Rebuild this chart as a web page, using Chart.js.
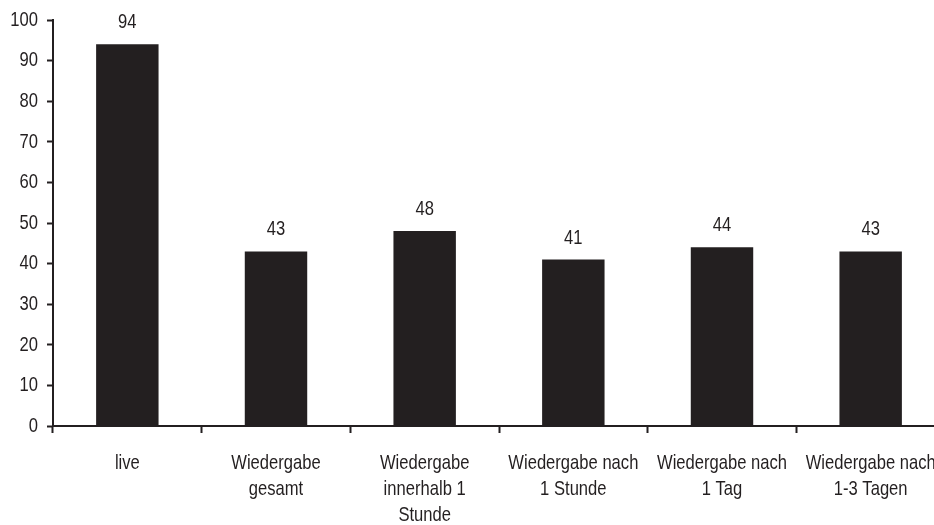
<!DOCTYPE html>
<html>
<head>
<meta charset="utf-8">
<script src="https://cdn.jsdelivr.net/npm/chart.js@4"></script>
<style>
  html, body { margin: 0; padding: 0; background: #fff; overflow: hidden; }
  #wrap { width: 934px; height: 525px; overflow: hidden; }
  #wrap div { width: 945px; height: 525px; position: relative; }
</style>
</head>
<body>
<div id="wrap"><div><canvas id="grafico"></canvas></div></div>
<script>
// Kategorien und Werte (Prozent)
const kategorien = [
    'live',
    ['Wiedergabe', 'gesamt'],
    ['Wiedergabe', 'innerhalb 1', 'Stunde'],
    ['Wiedergabe nach', '1 Stunde'],
    ['Wiedergabe nach', '1 Tag'],
    ['Wiedergabe nach', '1-3 Tagen']
];
const werte = [94, 43, 48, 41, 44, 43];
const yTicks = [0, 10, 20, 30, 40, 50, 60, 70, 80, 90, 100];

const schrift = "21px 'Liberation Sans', Arial, sans-serif";
const farbe = '#231f20';
const schmal = 0.79; // schmale Schrift nachbilden

// Text horizontal gestaucht zeichnen
function text(ctx, str, x, y) {
    ctx.save();
    ctx.translate(x, y);
    ctx.scale(schmal, 1);
    ctx.fillText(str, 0, 0);
    ctx.restore();
}

// Achsenbeschriftungen und Werte über den Balken
const beschriftung = {
    id: 'beschriftung',
    afterDatasetsDraw(chart) {
        const ctx = chart.ctx;
        const xs = chart.scales.x;
        const ys = chart.scales.y;
        ctx.save();
        ctx.font = schrift;
        ctx.fillStyle = farbe;

        // y-Achse
        ctx.textAlign = 'right';
        ctx.textBaseline = 'middle';
        yTicks.forEach(v => text(ctx, String(v), ys.right - 15, ys.getPixelForValue(v)));

        // x-Achse
        ctx.textAlign = 'center';
        kategorien.forEach((kat, i) => {
            const zeilen = Array.isArray(kat) ? kat : [kat];
            zeilen.forEach((z, j) => text(ctx, z, xs.getPixelForTick(i), xs.top + 37 + j * 26));
        });

        // Werte
        ctx.textBaseline = 'alphabetic';
        chart.getDatasetMeta(0).data.forEach((bar, i) => {
            text(ctx, String(werte[i]), bar.x, bar.y - 16);
        });
        ctx.restore();
    }
};

const ctx = document.querySelector('#grafico').getContext('2d');
const myChart = new Chart(ctx, {
    type: 'bar',
    data: {
        labels: kategorien,
        datasets: [{
            data: werte,
            backgroundColor: farbe,
            borderWidth: 0,
            categoryPercentage: 1,
            barPercentage: 0.42
        }]
    },
    options: {
        responsive: true,
        maintainAspectRatio: false,
        animation: false,
        layout: { padding: { top: 20, right: 0, bottom: 0, left: 0 } },
        plugins: {
            legend: { display: false },
            tooltip: { enabled: false }
        },
        scales: {
            x: {
                offset: true,
                grid: {
                    offset: true,
                    drawOnChartArea: false,
                    drawTicks: true,
                    tickLength: 7,
                    tickColor: farbe,
                    tickWidth: 2
                },
                border: { display: true, color: farbe, width: 2 },
                ticks: { display: false, autoSkip: false },
                afterFit(scale) { scale.height = 99; }
            },
            y: {
                min: 0,
                max: 100,
                afterBuildTicks(scale) { scale.ticks = yTicks.map(v => ({ value: v })); },
                grid: {
                    drawOnChartArea: false,
                    drawTicks: true,
                    tickLength: 6,
                    tickColor: farbe,
                    tickWidth: 2
                },
                border: { display: true, color: farbe, width: 2 },
                ticks: { display: false },
                afterFit(scale) { scale.width = 53; }
            }
        }
    },
    plugins: [beschriftung]
});
</script>
</body>
</html>
